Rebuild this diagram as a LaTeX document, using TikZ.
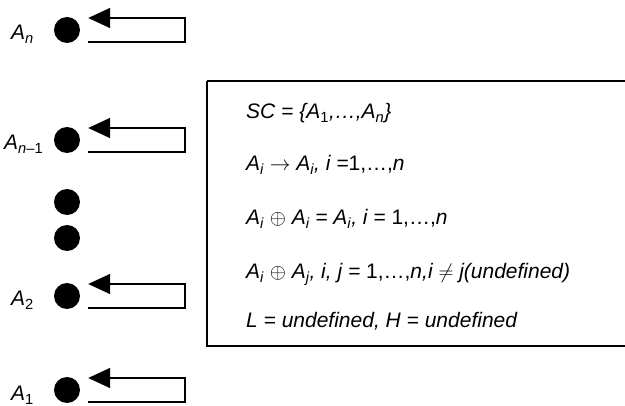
\documentclass[tikz,border=0pt]{standalone}
\usepackage{fontspec}
\setmainfont{Liberation Sans}
\usetikzlibrary{arrows.meta}
\tikzstyle{statedot}=[circle,fill=black,inner sep=0pt,minimum size=26pt]
\tikzstyle{feedback}=[-{Triangle[length=22pt,width=20pt]},line width=1.6pt,black]
\tikzstyle{statelabel}=[anchor=base west,inner sep=0pt]
\tikzstyle{ruletext}=[anchor=base west,inner sep=0pt]
\newcommand{\lo}[1]{\textsubscript{#1}}

\begin{document}
\begin{tikzpicture}[x=1pt,y=-1pt,every node/.style={font=\fontsize{21}{25}\selectfont\itshape}]
	\useasboundingbox (0,0) rectangle (625,406);

	% states
	\node[statedot] (dn) at (67,30) {};
	\node[statedot] (dm) at (67,140) {};
	\node[statedot] (e1) at (67,202) {};
	\node[statedot] (e2) at (67,238) {};
	\node[statedot] (d2) at (67,296) {};
	\node[statedot] (d1) at (67,390) {};

	\node[statelabel] (ln) at (11,40) {A\lo{n}};
	\node[statelabel] (lm) at (4,150) {A\lo{n\textendash\upshape 1}};
	\node[statelabel] (l2) at (11,306) {A\lo{\upshape 2}};
	\node[statelabel] (l1) at (11,401) {A\lo{\upshape 1}};

	% self loops
	\foreach \s in {dn,dm,d2,d1}
		\draw[feedback] (\s.east) ++(8,12) -- ++(97,0) -- ++(0,-24) -- ++(-97,0);

	% rules
	\draw[line width=1.5pt] (207,81) -- (627,81) (207,81) -- (207,346) -- (627,346);
	\node[ruletext] (r1) at (246,119) {SC = \{A\lo{\upshape 1},\dots,A\lo{n}\}};
	\node[ruletext] (r2) at (246,171) {A\lo{i} $\rightarrow$ A\lo{i}, i =\upshape 1,\dots,\itshape n};
	\node[ruletext] (r3) at (246,225) {A\lo{i} $\oplus$ A\lo{i} = A\lo{i}, i = \upshape 1,\dots,\itshape n};
	\node[ruletext] (r4) at (246,279) {A\lo{i} $\oplus$ A\lo{j}, i, j = \upshape 1,\dots,\itshape n,i $\neq$ j(undefined)};
	\node[ruletext] (r5) at (246,328) {L = undefined, H = undefined};
\end{tikzpicture}
\end{document}
